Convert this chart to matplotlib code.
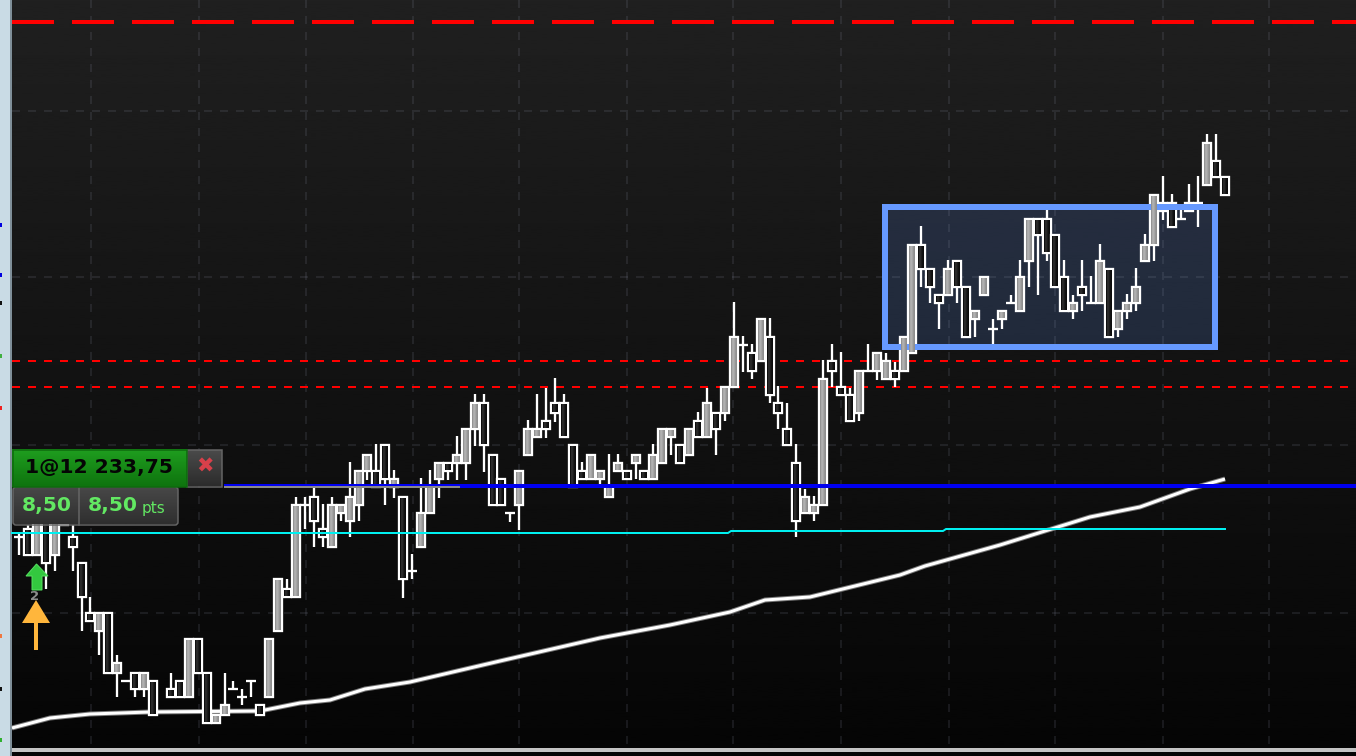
import numpy as np
import matplotlib
matplotlib.use('Agg')
import matplotlib.pyplot as plt
from matplotlib.patches import Rectangle, FancyBboxPatch, Polygon

# values, vertical scale is the screen row (top = 0)
# body_top, body_bot, wick_top, wick_bot, up (1 grey / 0 dark)
nan = float('nan')
candles = [
    (537,537,533,555,0),(529,555,525,555,0),(515,555,510,555,1),(500,563,495,589,0),(515,555,510,571,1),
    (505,525,500,525,1),(537,547,525,571,0),(563,597,563,631,0),(613,621,597,621,0),(613,631,613,655,1),
    (613,673,613,673,0),(663,673,655,697,1),(681,681,681,681,0),(673,689,673,697,0),(673,689,673,697,1),
    (681,715,681,715,0),(nan,nan,nan,nan,0),(689,697,673,697,0),(681,697,681,697,0),(639,697,639,697,1),
    (639,673,639,673,0),(673,723,673,723,0),(715,723,715,723,1),(705,715,673,715,1),(689,689,681,689,0),
    (697,697,689,705,0),(681,681,681,697,0),(705,715,705,715,0),(639,697,639,697,1),(579,631,579,631,1),
    (589,597,579,597,0),(505,597,497,597,1),(505,505,497,529,0),(497,521,488,547,0),(529,537,504,547,0),
    (505,547,497,547,1),(505,513,505,521,1),(497,521,462,537,1),(471,505,471,521,1),(455,471,455,480,1),
    (471,487,444,487,0),(445,479,445,505,0),(479,487,470,498,1),(497,579,497,598,0),(571,571,554,579,0),
    (513,547,478,547,1),(487,513,470,513,1),(463,479,463,498,1),(463,471,463,480,0),(455,463,436,480,1),
    (429,463,429,480,1),(403,429,394,446,1),(403,445,394,472,0),(455,505,455,505,0),(479,505,479,505,0),
    (513,513,513,522,0),(471,505,471,530,1),(429,455,420,455,1),(429,437,394,437,1),(421,429,388,438,0),
    (403,413,378,422,0),(403,437,394,437,0),(445,487,445,487,0),(471,479,462,479,0),(455,479,455,479,1),
    (471,479,471,487,1),(487,497,454,497,1),(463,471,454,471,1),(471,479,471,479,0),(455,463,455,479,1),
    (471,479,471,479,0),(455,479,444,479,1),(429,463,429,463,1),(429,437,429,455,1),(445,463,445,463,0),
    (429,455,429,455,1),(421,437,412,437,0),(403,437,388,437,1),(413,429,413,455,0),(387,413,387,421,1),
    (337,387,302,387,1),(345,345,336,372,0),(353,371,344,379,0),(319,361,319,361,1),(337,395,318,403,0),
    (403,413,386,429,0),(429,445,403,445,0),(463,521,444,537,0),(497,513,489,513,1),(505,513,496,521,1),
    (379,505,360,505,1),(361,371,344,387,0),(387,395,352,395,0),(395,421,388,421,0),(371,413,371,421,1),
    (371,371,344,371,0),(353,371,353,380,1),(361,379,353,379,1),(371,379,362,387,0),(337,371,337,371,1),
    (245,353,245,353,1),(245,269,226,287,0),(269,287,269,303,0),(295,303,295,329,0),(269,295,260,295,1),
    (261,287,261,303,0),(287,337,287,337,0),(311,319,311,337,1),(277,295,277,295,1),(329,329,319,344,0),
    (311,319,311,329,1),(303,303,295,303,0),(277,311,260,311,1),(219,261,219,287,1),(219,235,219,295,0),
    (219,253,209,261,0),(235,287,235,287,0),(277,311,260,311,0),(303,311,295,319,1),(287,295,260,311,0),
    (303,303,276,303,0),(261,303,244,303,1),(269,337,269,337,0),(311,329,311,337,1),(303,311,294,319,1),
    (287,303,268,311,1),(245,261,234,261,1),(195,245,195,261,1),(203,211,176,220,0),(203,227,194,227,0),
    (219,219,210,219,0),(203,211,184,211,0),(203,203,176,227,0),(143,185,134,185,1),(161,177,134,177,0),
    (177,195,177,195,0),
]
bar_first_x = 19
bar_step = 8.935

grid_x = [91, 199, 306, 413, 519, 627, 733, 841, 949, 1055, 1163, 1269]
grid_y = [111, 277, 445, 613]

ma_x = [12, 50, 90, 150, 260, 300, 330, 365, 410, 500, 600, 670, 730, 765, 810, 900, 925, 1000, 1090, 1140, 1190, 1225]
ma_y = [728, 718, 714, 712, 711, 703, 700, 689, 682, 661, 638, 625, 612, 600, 597, 575, 566, 545, 517, 507, 489, 479]

cyan_x = [12, 728, 731, 943, 946, 1225]
cyan_y = [533, 533, 531, 531, 529, 529]

red_levels = [361, 387]
stop_level = 22
entry_level = 486

side_marks = [(225, '#0000e0'), (275, '#0000e0'), (303, '#111111'), (356, '#40b040'), (408, '#f02020'),
              (636, '#f07840'), (689, '#111111'), (740, '#30b030')]

W, H = 1356, 756
px = 72 / 100  # points per pixel
fig = plt.figure(figsize=(W / 100, H / 100), dpi=100)
ax = fig.add_axes([0, 0, 1, 1])
ax.set_xlim(0, W)
ax.set_ylim(H, 0)
ax.axis('off')

# background
bg = np.linspace(0.125, 0.02, 256).reshape(-1, 1)
ax.imshow(bg, extent=[12, W, H, 0], cmap='gray', vmin=0, vmax=1, aspect='auto', zorder=0)
ax.add_patch(Rectangle((0, 0), 10, H, fc='#c9dbe5', ec='none', zorder=1))
ax.add_patch(Rectangle((10, 0), 2, H, fc='#7f8f99', ec='none', zorder=1))
for y, c in side_marks:
    ax.add_patch(Rectangle((0, y - 2), 2, 4, fc=c, ec='none', zorder=2))

# box fill first, candles go over it
ax.add_patch(Rectangle((885, 207), 330, 140, fc='#6699ff', ec='none', alpha=0.17, zorder=1.5))

for x in grid_x:
    ax.plot([x, x], [0, 748], color='#9aa0b8', alpha=0.13, lw=2 * px, dashes=(4, 4), zorder=2)
for y in grid_y:
    ax.plot([12, W], [y, y], color='#9aa0b8', alpha=0.13, lw=2 * px, dashes=(4, 4), zorder=2)

ax.plot([12, W], [stop_level, stop_level], color='#ff0000', lw=4 * px, dashes=(10.5, 4.5), zorder=3)
for y in red_levels:
    ax.plot([12, W], [y, y], color='#ff0000', lw=2 * px, dashes=(4, 4), zorder=3)

ax.plot(ma_x, ma_y, color='#777777', lw=5 * px, zorder=3, solid_capstyle='butt')
ax.plot(ma_x, ma_y, color='#ffffff', lw=3 * px, zorder=3.01, solid_capstyle='butt')

# candles: wicks, outlines and dark fills stay under the box border, grey fills go over it
grad_up = np.array([[0.58, 0.7, 0.68, 0.6, 0.56]])
grad_dn = np.array([[0.06, 0.2, 0.14, 0.08, 0.05]])
lw_c = 2.3 * px
z = 4.0
for i, (top, bot, wtop, wbot, up) in enumerate(candles):
    if np.isnan(top):
        continue
    x = round(bar_first_x + bar_step * i)
    z += 0.001
    ax.plot([x, x], [wtop, wbot], color='white', lw=lw_c, zorder=z, solid_capstyle='butt')
    if top == bot:
        ax.plot([x - 5, x + 5], [top, top], color='white', lw=lw_c, zorder=z, solid_capstyle='butt')
        continue
    ax.add_patch(Rectangle((x - 4, top), 8, bot - top, fc='#101010', ec='white', lw=lw_c, zorder=z))
    ax.imshow(grad_up if up else grad_dn, extent=[x - 3, x + 3, bot - 1, top + 1], cmap='gray', vmin=0, vmax=1,
              aspect='auto', interpolation='bilinear', zorder=4.4 if up else z + 0.0005)
ax.set_xlim(0, W)
ax.set_ylim(H, 0)

# box border
ax.add_patch(Rectangle((885, 207), 330, 140, fc='none', ec='#6699ff', lw=6 * px, zorder=4.3, joinstyle='miter'))

# levels
ax.plot([224, W], [entry_level, entry_level], color='#0000f0', lw=4 * px, zorder=5, solid_capstyle='butt')
ax.plot([224, 460], [487, 487], color='#8a8a8a', lw=2 * px, zorder=5.1, solid_capstyle='butt')
ax.plot(cyan_x, cyan_y, color='#00f0f0', lw=2 * px, zorder=5)

ax.add_patch(Rectangle((12, 748), W - 12, 4, fc='#c4c4c4', ec='none', zorder=6))

# order label
def grad_box(x0, x1, y0, y1, c0, c1, zo):
    g = np.linspace(0, 1, 32).reshape(-1, 1, 1)
    c0 = np.array(matplotlib.colors.to_rgb(c0))
    c1 = np.array(matplotlib.colors.to_rgb(c1))
    ax.imshow(c0 * (1 - g) + c1 * g, extent=[x0, x1, y1, y0], aspect='auto', zorder=zo)

grad_box(187, 222, 450, 486, '#4a4a4a', '#2c2c2c', 7)
ax.add_patch(Rectangle((187, 450), 35, 37, fc='none', ec='#666666', lw=1.5 * px, zorder=7.1))
grad_box(13, 178, 488, 524, '#474747', '#2f2f2f', 7)
ax.add_patch(FancyBboxPatch((13, 487), 165, 38, boxstyle='round,pad=0,rounding_size=3', fc='none', ec='#666666',
                            lw=1.5 * px, zorder=7.1))
ax.plot([79, 79], [487, 525], color='#666666', lw=1.5 * px, zorder=7.1)
grad_box(12, 187, 449, 487, '#1f9e1f', '#0e730e', 7.2)
ax.add_patch(Rectangle((12.5, 449.5), 174.5, 37.5, fc='none', ec='#0d6a0d', lw=1.5 * px, zorder=7.3))
ax.text(98.5, 468, '1@12 233,75', color='#050505', fontsize=14.6, fontweight='bold', family='DejaVu Sans',
        ha='center', va='center', zorder=8)
ax.text(205, 467, '\u2716', color='#d8404a', fontsize=15, family='DejaVu Sans',
        ha='center', va='center', zorder=8)
ax.text(46.5, 506, '8,50', color='#62e862', fontsize=14.6, fontweight='bold', family='DejaVu Sans',
        ha='center', va='center', zorder=8)
ax.text(88, 506, '8,50', color='#62e862', fontsize=14.6, fontweight='bold', family='DejaVu Sans',
        ha='left', va='center', zorder=8)
ax.text(142, 509, 'pts', color='#62e862', fontsize=11, family='DejaVu Sans', ha='left', va='center', zorder=8)

# trade arrows
ax.add_patch(Polygon([(36.5, 564), (48, 576), (42, 576), (42, 590), (32, 590), (32, 576), (26, 576)], closed=True,
                     fc='#33c83f', ec='#55e060', lw=1 * px, zorder=7))
ax.text(35, 596, '2', color='#8c8c8c', fontsize=9.5, fontweight='bold', family='DejaVu Sans', ha='center',
        va='center', zorder=7)
ax.add_patch(Polygon([(36, 600), (50, 623), (38, 623), (38, 650), (34, 650), (34, 623), (22, 623)], closed=True,
                     fc='#ffb63c', ec='none', zorder=7.1))

fig.savefig('out.png', dpi=100)
